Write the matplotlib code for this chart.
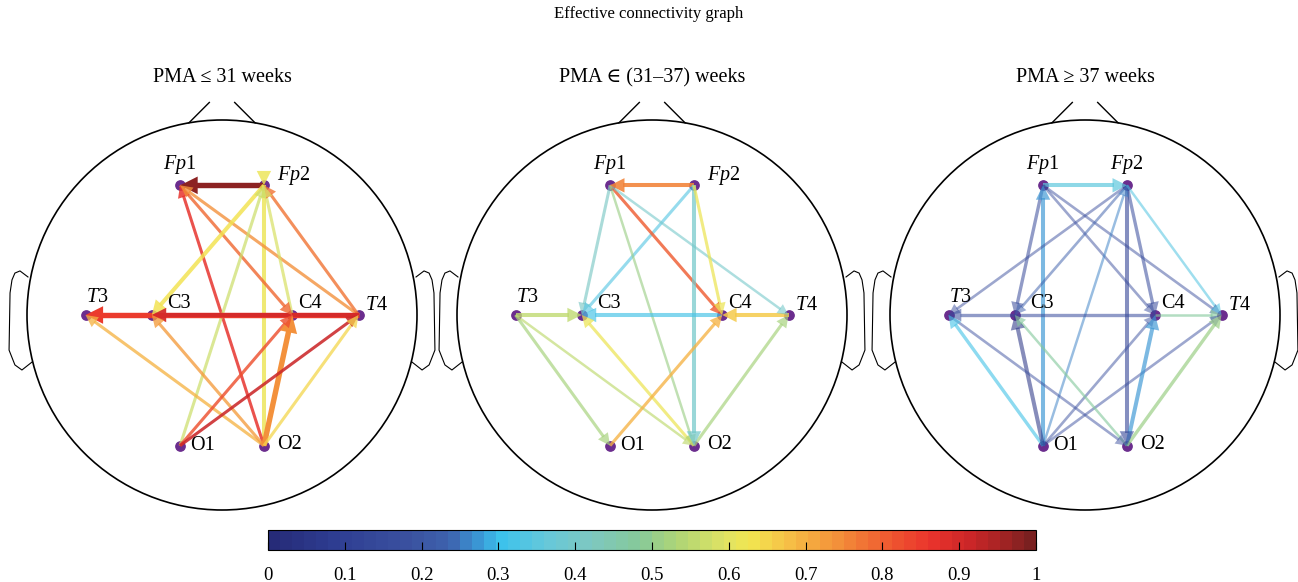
import numpy as np
import matplotlib
matplotlib.use('Agg')
import matplotlib.pyplot as plt
from matplotlib.colors import LinearSegmentedColormap, ListedColormap, Normalize
from matplotlib.patches import Circle, Polygon
import matplotlib.colorbar as mcolorbar

plt.rcParams['font.family'] = ['Liberation Serif', 'DejaVu Serif']
plt.rcParams['mathtext.fontset'] = 'custom'
plt.rcParams['mathtext.rm'] = 'Liberation Serif'
plt.rcParams['mathtext.it'] = 'Liberation Serif:italic'

# electrode layout (head radius = 1)
nodes = ['Fp1', 'Fp2', 'T3', 'C3', 'C4', 'T4', 'O1', 'O2']
node_x = [-0.215, 0.215, -0.70, -0.36, 0.36, 0.70, -0.215, 0.215]
node_y = [0.665, 0.665, 0.0, 0.0, 0.0, 0.0, -0.67, -0.67]
node_labels = [r'$Fp$1', r'$Fp$2', r'$T$3', 'C3', 'C4', r'$T$4', 'O1', 'O2']

titles = ['PMA \u2264 31 weeks', 'PMA \u2208 (31\u201337) weeks', 'PMA \u2265 37 weeks']

# panel 1: PMA <= 31 weeks
p1_src = ['Fp2', 'O2', 'O2', 'Fp1', 'T4', 'T4', 'Fp2', 'C4', 'O1', 'T4', 'T4',
          'O2', 'O2', 'O2', 'O1', 'O1', 'O2']
p1_dst = ['Fp1', 'Fp2', 'Fp1', 'C4', 'Fp1', 'Fp2', 'C3', 'Fp2', 'Fp2', 'T3', 'C3',
          'T3', 'C3', 'C4', 'C4', 'T4', 'T4']
p1_val = [0.97, 0.62, 0.86, 0.79, 0.74, 0.78, 0.64, 0.58, 0.57, 0.85, 0.90,
          0.69, 0.72, 0.74, 0.82, 0.92, 0.65]
p1_w = [3, 2, 1.3, 1.3, 1.3, 1.3, 2, 1.3, 1.3, 3, 2, 1.3, 1.3, 3, 1.3, 1.3, 1.3]
p1_flip = [False, True] + [False] * 15

# panel 2: PMA in (31-37) weeks
p2_src = ['Fp2', 'Fp1', 'Fp2', 'Fp1', 'Fp1', 'Fp1', 'Fp2', 'Fp2', 'C4', 'T3',
          'T4', 'T3', 'T3', 'O2', 'O1', 'O2']
p2_dst = ['Fp1', 'C3', 'C3', 'C4', 'T4', 'O2', 'O2', 'C4', 'C3', 'C3',
          'C4', 'O1', 'O2', 'C3', 'C4', 'T4']
p2_val = [0.76, 0.42, 0.34, 0.80, 0.40, 0.50, 0.40, 0.62, 0.32, 0.56,
          0.67, 0.52, 0.56, 0.62, 0.70, 0.52]
p2_w = [2, 1.3, 1.3, 1.3, 0.9, 0.9, 2, 1.3, 2, 2, 2, 1.3, 0.9, 1.3, 1.3, 1.3]

# panel 3: PMA >= 37 weeks
p3_src = ['Fp1', 'O1', 'Fp1', 'Fp1', 'Fp1', 'Fp2', 'Fp2', 'O1', 'Fp2', 'Fp2',
          'Fp2', 'C4', 'C4', 'O1', 'O1', 'O1', 'O1', 'T3', 'O2', 'O2', 'O2']
p3_dst = ['Fp2', 'Fp1', 'C3', 'C4', 'T4', 'T3', 'C3', 'Fp2', 'O2', 'C4',
          'T4', 'T3', 'T4', 'T3', 'C3', 'C4', 'T4', 'O2', 'C3', 'C4', 'T4']
p3_val = [0.35, 0.27, 0.14, 0.15, 0.15, 0.15, 0.22, 0.25, 0.12, 0.15,
          0.33, 0.15, 0.48, 0.32, 0.06, 0.18, 0.16, 0.16, 0.47, 0.27, 0.50]
p3_w = [2, 2, 1.5, 1, 1, 1, 1, 0.9, 2, 1.5, 0.9, 1.5, 0.9, 1.5, 2, 1, 1, 1, 0.9, 2, 1.5]

panels = [
    (p1_src, p1_dst, p1_val, p1_w, p1_flip),
    (p2_src, p2_dst, p2_val, p2_w, [False] * len(p2_src)),
    (p3_src, p3_dst, p3_val, p3_w, [False] * len(p3_src)),
]

cb_ticks = [0, 0.1, 0.2, 0.3, 0.4, 0.5, 0.6, 0.7, 0.8, 0.9, 1]
cb_labels = ['0', '0.1', '0.2', '0.3', '0.4', '0.5', '0.6', '0.7', '0.8', '0.9', '1']

# jet-like palette of the original, 64 steps
anchors = [(0.00, '#262b78'), (0.08, '#2e3d92'), (0.18, '#3b52a0'), (0.23, '#3e62ae'),
           (0.27, '#3a95d4'), (0.30, '#3cc2ec'), (0.36, '#66c8da'), (0.42, '#7ec8c0'),
           (0.48, '#86c99a'), (0.54, '#b2d674'), (0.60, '#e2e462'), (0.63, '#f2e650'),
           (0.68, '#f6c046'), (0.72, '#f4a23e'), (0.77, '#f27e36'), (0.82, '#ee5530'),
           (0.87, '#ea332c'), (0.92, '#cc2628'), (0.96, '#a82424'), (1.00, '#7a2020')]
base = LinearSegmentedColormap.from_list('conn', anchors)
cmap = ListedColormap(base(np.linspace(0, 1, 64)))
norm = Normalize(0, 1)

W, H = 1298, 582
R = 195.0  # head radius in pixels
centers = [(222, 315), (652, 315), (1085, 315)]
xr = (-1.1, 1.1)
yr = (-1.1, 1.2)

fig = plt.figure(figsize=(W / 100, H / 100), dpi=100)

label_off = {'Fp1': (0, -21), 'Fp2': (30, -10), 'T3': (12, -17), 'C3': (27, -12),
             'C4': (18, -11), 'T4': (18, -9), 'O1': (22, 0), 'O2': (26, -1)}

ear_x = [-0.995, -1.036, -1.062, -1.077, -1.087, -1.092, -1.062, -1.026, -0.974]
ear_y = [0.195, 0.226, 0.215, 0.18, 0.113, -0.18, -0.256, -0.282, -0.241]

pos = {n: (x, y) for n, x, y in zip(nodes, node_x, node_y)}

for k, (cx, cy) in enumerate(centers):
    aw = (xr[1] - xr[0]) * R
    ah = (yr[1] - yr[0]) * R
    left = (cx + xr[0] * R) / W
    bottom = (H - (cy - yr[0] * R)) / H
    ax = fig.add_axes([left, bottom, aw / W, ah / H])
    ax.set_xlim(*xr)
    ax.set_ylim(*yr)
    ax.axis('off')

    # head outline
    ax.add_patch(Circle((0, 0), 1.0, fill=False, ec='black', lw=1.2, clip_on=False))
    ax.plot([-0.17, -0.065], [0.985, 1.09], color='black', lw=1.0, clip_on=False)
    ax.plot([0.17, 0.065], [0.985, 1.09], color='black', lw=1.0, clip_on=False)
    ax.plot(ear_x, ear_y, color='black', lw=0.8, clip_on=False)
    ax.plot([-v for v in ear_x], ear_y, color='black', lw=0.8, clip_on=False)

    ax.scatter(node_x, node_y, s=45, color='#6b2d8e', zorder=2)

    src, dst, val, wts, flip = panels[k]
    for s, d, v, w, f in zip(src, dst, val, wts, flip):
        x0, y0 = pos[s]
        x1, y1 = pos[d]
        c = cmap(norm(v))
        a = min(1.0, 0.3 + 0.45 * v + 0.12 * w)
        lw = 0.9 + 1.0 * w
        L = (8 + 3.2 * w) / R
        hw = 0.5 * L
        dx, dy = x1 - x0, y1 - y0
        n = np.hypot(dx, dy)
        ux, uy = dx / n, dy / n
        if f:
            ux, uy = -ux, -uy
            ax.plot([x0, x1], [y0, y1], color=c, lw=lw, alpha=a,
                    solid_capstyle='butt', zorder=3)
        else:
            ax.plot([x0, x1 - ux * L * 0.9], [y0, y1 - uy * L * 0.9], color=c, lw=lw,
                    alpha=a, solid_capstyle='butt', zorder=3)
        bx, by = x1 - ux * L, y1 - uy * L
        tri = [(x1, y1), (bx - uy * hw, by + ux * hw), (bx + uy * hw, by - ux * hw)]
        ax.add_patch(Polygon(tri, closed=True, fc=c, ec='none', alpha=a, zorder=4))

    for n_, lab in zip(nodes, node_labels):
        ox, oy = label_off[n_]
        if k == 2 and n_ == 'Fp2':
            ox, oy = 0, -21
        x, y = pos[n_]
        ax.text(x + ox / R, y - oy / R, lab, ha='center', va='center', fontsize=14.5,
                zorder=6)

    fig.text(cx / W, 1 - 78 / H, titles[k], ha='center', va='center', fontsize=14.5)

fig.text(0.5, 1 - 14 / H, 'Effective connectivity graph', ha='center', va='center',
         fontsize=12)

cax = fig.add_axes([268 / W, 1 - 550 / H, 768 / W, 20 / H])
cb = mcolorbar.ColorbarBase(cax, cmap=cmap, norm=norm, orientation='horizontal')
cb.set_ticks(cb_ticks)
cb.set_ticklabels(cb_labels)
cax.tick_params(axis='x', direction='in', length=6, width=0.8, labelsize=13.5, pad=12)
cb.outline.set_linewidth(0.8)

fig.savefig('out.png', dpi=100)
